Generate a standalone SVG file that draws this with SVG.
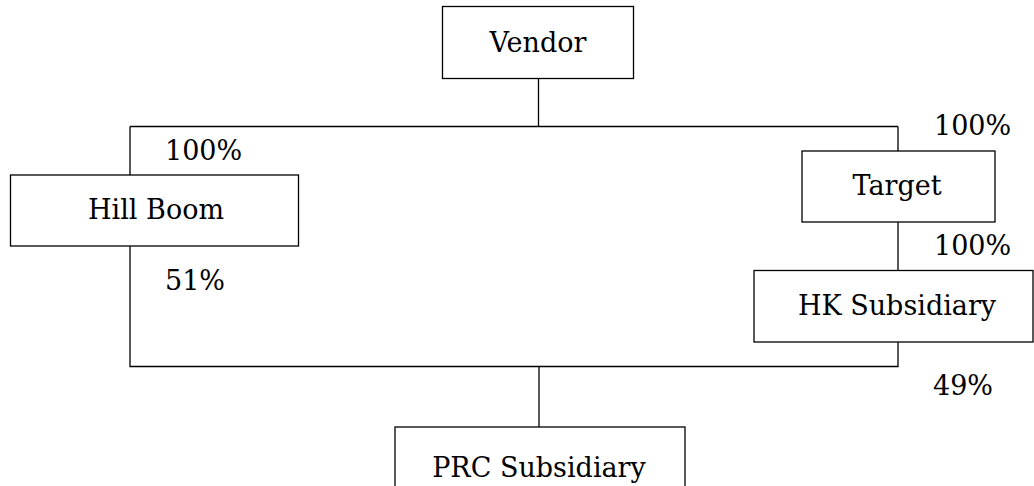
<svg xmlns="http://www.w3.org/2000/svg" width="1034" height="486" viewBox="0 0 1034 486">
<style>
.box{fill:#fff;stroke:#000;stroke-width:1.3}
.ln{fill:none;stroke:#000;stroke-width:1.3}
.t{font-family:'DejaVu Serif',serif;font-size:27px;fill:#000}
.c{text-anchor:middle}
</style>
<rect width="1034" height="486" fill="#fff"/>
<g id="connectors">
<path class="ln" d="M538.5 78V126.5M130 126.5H898M130 126.5V175M898 126.5V151M898 222V270.5M130 246V366.5H898V342M539 366.5V427"/>
</g>
<g id="vendor"><rect class="box" x="442.5" y="6.5" width="191" height="72"/><text class="t c" x="538" y="52">Vendor</text></g>
<g id="hillboom"><rect class="box" x="10.5" y="175" width="288" height="71"/><text class="t c" x="156" y="219">Hill Boom</text></g>
<g id="target"><rect class="box" x="802" y="151" width="193" height="71"/><text class="t c" x="897" y="195">Target</text></g>
<g id="hk"><rect class="box" x="754" y="270.5" width="279" height="71.5"/><text class="t c" x="897" y="315">HK Subsidiary</text></g>
<g id="prc"><rect class="box" x="395" y="427" width="290" height="70"/><text class="t c" x="539" y="477">PRC Subsidiary</text></g>
<g id="labels">
<text class="t" x="165" y="160">100%</text>
<text class="t" x="165" y="290">51%</text>
<text class="t" x="934" y="135">100%</text>
<text class="t" x="934" y="255">100%</text>
<text class="t" x="933" y="395">49%</text>
</g>
</svg>
